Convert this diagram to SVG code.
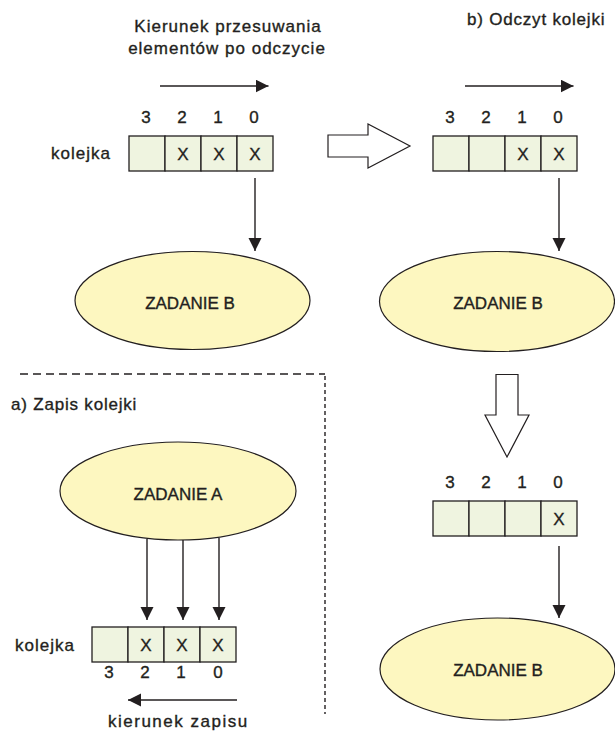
<svg xmlns="http://www.w3.org/2000/svg" width="615" height="731" viewBox="0 0 615 731">
  <style>
    text { font-family: "Liberation Sans", Arial, sans-serif; fill: #231f20; stroke: #231f20; stroke-width: 0.35; }
    .lbl { font-size: 17px; letter-spacing: 1px; }
    .num { font-size: 17px; }
    .mid { text-anchor: middle; }
    .cell { fill: #eff4e0; stroke: #231f20; stroke-width: 1.3; }
    .task { fill: #fdf7c0; stroke: #231f20; stroke-width: 1.2; }
    .task-t { font-size: 17px; text-anchor: middle; }
    .line { stroke: #231f20; stroke-width: 1.4; fill: none; }
    .hollow { fill: #ffffff; stroke: #231f20; stroke-width: 1.2; }
    .dash-h { stroke: #231f20; stroke-width: 1.4; stroke-dasharray: 8 5; fill: none; }
    .dash-v { stroke: #231f20; stroke-width: 1.4; stroke-dasharray: 4 3; fill: none; }
  </style>
  <defs>
    <marker id="head" markerUnits="userSpaceOnUse" markerWidth="14" markerHeight="14" refX="13" refY="6.5" orient="auto">
      <path d="M0,0 L13,6.5 L0,13 z" fill="#231f20"/>
    </marker>
  </defs>

  <rect width="615" height="731" fill="#ffffff"/>

  <!-- captions -->
  <g id="captions">
    <text class="lbl mid" x="228" y="32">Kierunek przesuwania</text>
    <text class="lbl mid" x="227" y="54">elementów po odczycie</text>
    <text class="lbl" x="467" y="24.5" style="letter-spacing:0.8px">b) Odczyt kolejki</text>
    <text class="lbl" x="11" y="410" style="letter-spacing:0.8px">a) Zapis kolejki</text>
    <text class="lbl" x="108" y="727" style="letter-spacing:1.5px">kierunek zapisu</text>
  </g>

  <!-- separator between part a) and part b) -->
  <g id="separator">
    <path class="dash-h" d="M20,374 H325"/>
    <path class="dash-v" d="M325,376 V714"/>
  </g>

  <!-- queue before reading -->
  <g id="queue-read-1">
    <text class="lbl" x="51" y="158.5">kolejka</text>
    <text class="num mid" x="146" y="123">3</text>
    <text class="num mid" x="182" y="123">2</text>
    <text class="num mid" x="218" y="123">1</text>
    <text class="num mid" x="254" y="123">0</text>
    <rect class="cell" x="129" y="136" width="36" height="35"/>
    <rect class="cell" x="165" y="136" width="36" height="35"/>
    <rect class="cell" x="201" y="136" width="36" height="35"/>
    <rect class="cell" x="237" y="136" width="36" height="35"/>
    <text class="num mid" x="183" y="160">X</text>
    <text class="num mid" x="219" y="160">X</text>
    <text class="num mid" x="255" y="160">X</text>
  </g>

  <!-- queue after first read -->
  <g id="queue-read-2">
    <text class="num mid" x="450" y="123">3</text>
    <text class="num mid" x="486" y="123">2</text>
    <text class="num mid" x="522" y="123">1</text>
    <text class="num mid" x="558" y="123">0</text>
    <rect class="cell" x="433" y="136" width="36" height="35"/>
    <rect class="cell" x="469" y="136" width="36" height="35"/>
    <rect class="cell" x="505" y="136" width="36" height="35"/>
    <rect class="cell" x="541" y="136" width="36" height="35"/>
    <text class="num mid" x="523" y="160">X</text>
    <text class="num mid" x="559" y="160">X</text>
  </g>

  <!-- queue after second read -->
  <g id="queue-read-3">
    <text class="num mid" x="450" y="488">3</text>
    <text class="num mid" x="486" y="488">2</text>
    <text class="num mid" x="522" y="488">1</text>
    <text class="num mid" x="558" y="488">0</text>
    <rect class="cell" x="433" y="501" width="36" height="35"/>
    <rect class="cell" x="469" y="501" width="36" height="35"/>
    <rect class="cell" x="505" y="501" width="36" height="35"/>
    <rect class="cell" x="541" y="501" width="36" height="35"/>
    <text class="num mid" x="559" y="524.5">X</text>
  </g>

  <!-- queue being written -->
  <g id="queue-write">
    <text class="lbl" x="15" y="650.5">kolejka</text>
    <rect class="cell" x="92" y="627" width="36" height="35"/>
    <rect class="cell" x="128" y="627" width="36" height="35"/>
    <rect class="cell" x="164" y="627" width="36" height="35"/>
    <rect class="cell" x="200" y="627" width="36" height="35"/>
    <text class="num mid" x="146" y="650.5">X</text>
    <text class="num mid" x="182" y="650.5">X</text>
    <text class="num mid" x="218" y="650.5">X</text>
    <text class="num mid" x="109" y="678">3</text>
    <text class="num mid" x="145" y="678">2</text>
    <text class="num mid" x="181" y="678">1</text>
    <text class="num mid" x="218" y="678">0</text>
  </g>

  <!-- tasks -->
  <g id="task-b-1">
    <ellipse class="task" cx="192.5" cy="300.5" rx="117.5" ry="49"/>
    <text class="task-t" x="190" y="309">ZADANIE B</text>
  </g>
  <g id="task-b-2">
    <ellipse class="task" cx="497" cy="301.5" rx="117.5" ry="50"/>
    <text class="task-t" x="498" y="308.5">ZADANIE B</text>
  </g>
  <g id="task-b-3">
    <ellipse class="task" cx="497.5" cy="669" rx="117.5" ry="51"/>
    <text class="task-t" x="498" y="676">ZADANIE B</text>
  </g>
  <g id="task-a">
    <ellipse class="task" cx="178" cy="491" rx="118" ry="49"/>
    <text class="task-t" x="178" y="500">ZADANIE A</text>
  </g>

  <!-- step arrows -->
  <g id="step-right">
    <polygon class="hollow" points="328,135 368,135 368,124 410,146 368,168 368,157 328,157"/>
  </g>
  <g id="step-down">
    <polygon class="hollow" points="496,374.5 518,374.5 518,415 529,415 507,457 485,415 496,415"/>
  </g>

  <!-- connectors -->
  <g id="connectors">
    <line class="line" x1="160" y1="86" x2="268.5" y2="86" marker-end="url(#head)"/>
    <line class="line" x1="465" y1="86" x2="573.5" y2="86" marker-end="url(#head)"/>
    <line class="line" x1="255" y1="178" x2="255" y2="251" marker-end="url(#head)"/>
    <line class="line" x1="559" y1="178" x2="559" y2="251" marker-end="url(#head)"/>
    <line class="line" x1="559" y1="546" x2="559" y2="618" marker-end="url(#head)"/>
    <line class="line" x1="147" y1="539" x2="147" y2="620" marker-end="url(#head)"/>
    <line class="line" x1="183" y1="540" x2="183" y2="620" marker-end="url(#head)"/>
    <line class="line" x1="219" y1="538" x2="219" y2="620" marker-end="url(#head)"/>
    <line class="line" x1="237" y1="700" x2="128" y2="700" marker-end="url(#head)"/>
  </g>
</svg>
